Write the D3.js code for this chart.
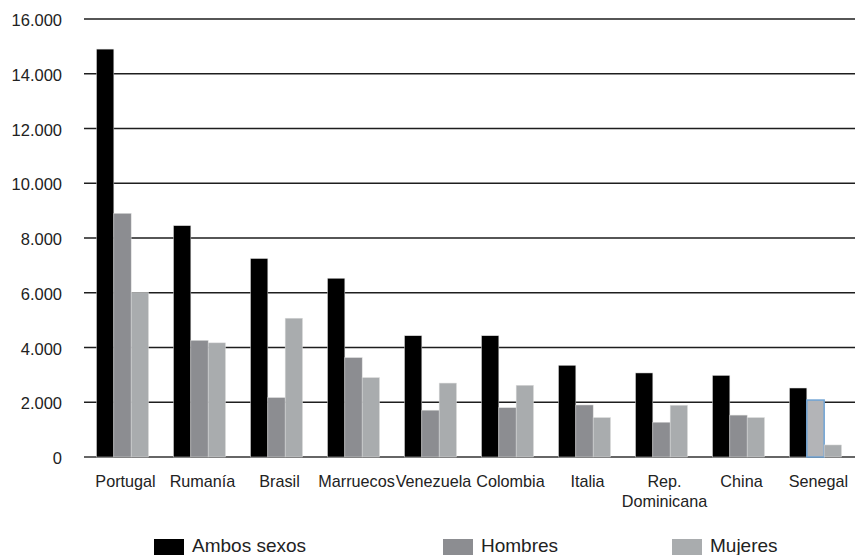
<!DOCTYPE html>
<html>
<head>
<meta charset="utf-8">
<script src="https://cdn.jsdelivr.net/npm/d3@7"></script>
<style>
  html, body { margin: 0; padding: 0; background: #fff; }
  svg { display: block; font-family: "Liberation Sans", Arial, Helvetica, sans-serif; }
</style>
</head>
<body>
<svg id="chart" width="857" height="555"></svg>
<script>
const categories = ["Portugal", "Rumanía", "Brasil", "Marruecos", "Venezuela", "Colombia", "Italia", "Rep. Dominicana", "China", "Senegal"];
const seriesNames = ["Ambos sexos", "Hombres", "Mujeres"];
const ambos   = [14900, 8450, 7250, 6530, 4430, 4430, 3350, 3070, 2980, 2520];
const hombres = [8900, 4260, 2170, 3630, 1710, 1800, 1900, 1270, 1530, 2080];
const mujeres = [6010, 4170, 5070, 2900, 2700, 2620, 1440, 1890, 1440, 440];
const yTicks = [0, 2000, 4000, 6000, 8000, 10000, 12000, 14000, 16000];

const series = [ambos, hombres, mujeres];
const colors = ["#000000", "#8c8d91", "#a9acae"];

const svg = d3.select("#chart");
const mLeft = 84, mRight = 855, mTop = 19, mBottom = 457;

const y = d3.scaleLinear().domain([0, 16000]).range([mBottom, mTop]);
const x0 = d3.scaleBand().domain(categories).range([mLeft, mRight - 1])
  .paddingInner(0.325).paddingOuter(0.1625);
const x1 = d3.scaleBand().domain(d3.range(series.length)).range([0, x0.bandwidth()]);

const fmt = v => d3.format(",")(v).replace(/,/g, ".");

// gridlines
svg.append("g").selectAll("line").data(yTicks).join("line")
  .attr("x1", mLeft).attr("x2", mRight)
  .attr("y1", d => y(d)).attr("y2", d => y(d))
  .attr("stroke", d => d === 0 ? "#333" : "#1e1e1e")
  .attr("stroke-width", 1.3);

// y axis labels
const yAxis = d3.axisLeft(y).tickValues(yTicks).tickFormat(fmt).tickSize(0).tickPadding(0);
const ya = svg.append("g").attr("transform", `translate(${62},0)`).call(yAxis);
ya.select(".domain").remove();
ya.selectAll("text").attr("font-size", 16.5).attr("fill", "#222")
  .attr("font-family", "Liberation Sans, Arial, sans-serif").attr("dy", "0.4em");

// bars
const groups = svg.append("g").selectAll("g").data(categories).join("g")
  .attr("transform", c => `translate(${x0(c)},0)`);
groups.selectAll("rect")
  .data((c, ci) => series.map((s, si) => ({ si, c, v: s[ci] })))
  .join("rect")
  .attr("x", d => x1(d.si))
  .attr("width", x1.bandwidth())
  .attr("y", d => y(d.v))
  .attr("height", d => y(0) - y(d.v))
  .attr("fill", d => (d.c === "Senegal" && d.si === 1) ? "#b3b4b7" : colors[d.si])
  .attr("stroke", d => (d.c === "Senegal" && d.si === 1) ? "#6fa3d4" : "#dcdcdc")
  .attr("stroke-width", d => (d.c === "Senegal" && d.si === 1) ? 1.5 : 0.5);

// x axis labels
const xa = svg.append("g");
categories.forEach(c => {
  const words = c === "Rep. Dominicana" ? ["Rep.", "Dominicana"] : [c];
  const cx = x0(c) + x0.bandwidth() / 2 + 3;
  const t = xa.append("text")
    .attr("x", cx)
    .attr("y", 487)
    .attr("text-anchor", "middle")
    .attr("font-size", 16.2)
    .attr("fill", "#222");
  words.forEach((w, i) => {
    t.append("tspan").attr("x", cx)
      .attr("dy", i === 0 ? 0 : 20).text(w);
  });
});

// legend
const legendX = [154, 443, 672];
const lg = svg.append("g").selectAll("g").data(seriesNames).join("g")
  .attr("transform", (d, i) => `translate(${legendX[i]},539)`);
lg.append("rect").attr("width", 30).attr("height", 16).attr("fill", (d, i) => colors[i]);
lg.append("text").attr("x", 38).attr("y", 12.5).attr("font-size", 19).attr("fill", "#222").text(d => d);
</script>
</body>
</html>
